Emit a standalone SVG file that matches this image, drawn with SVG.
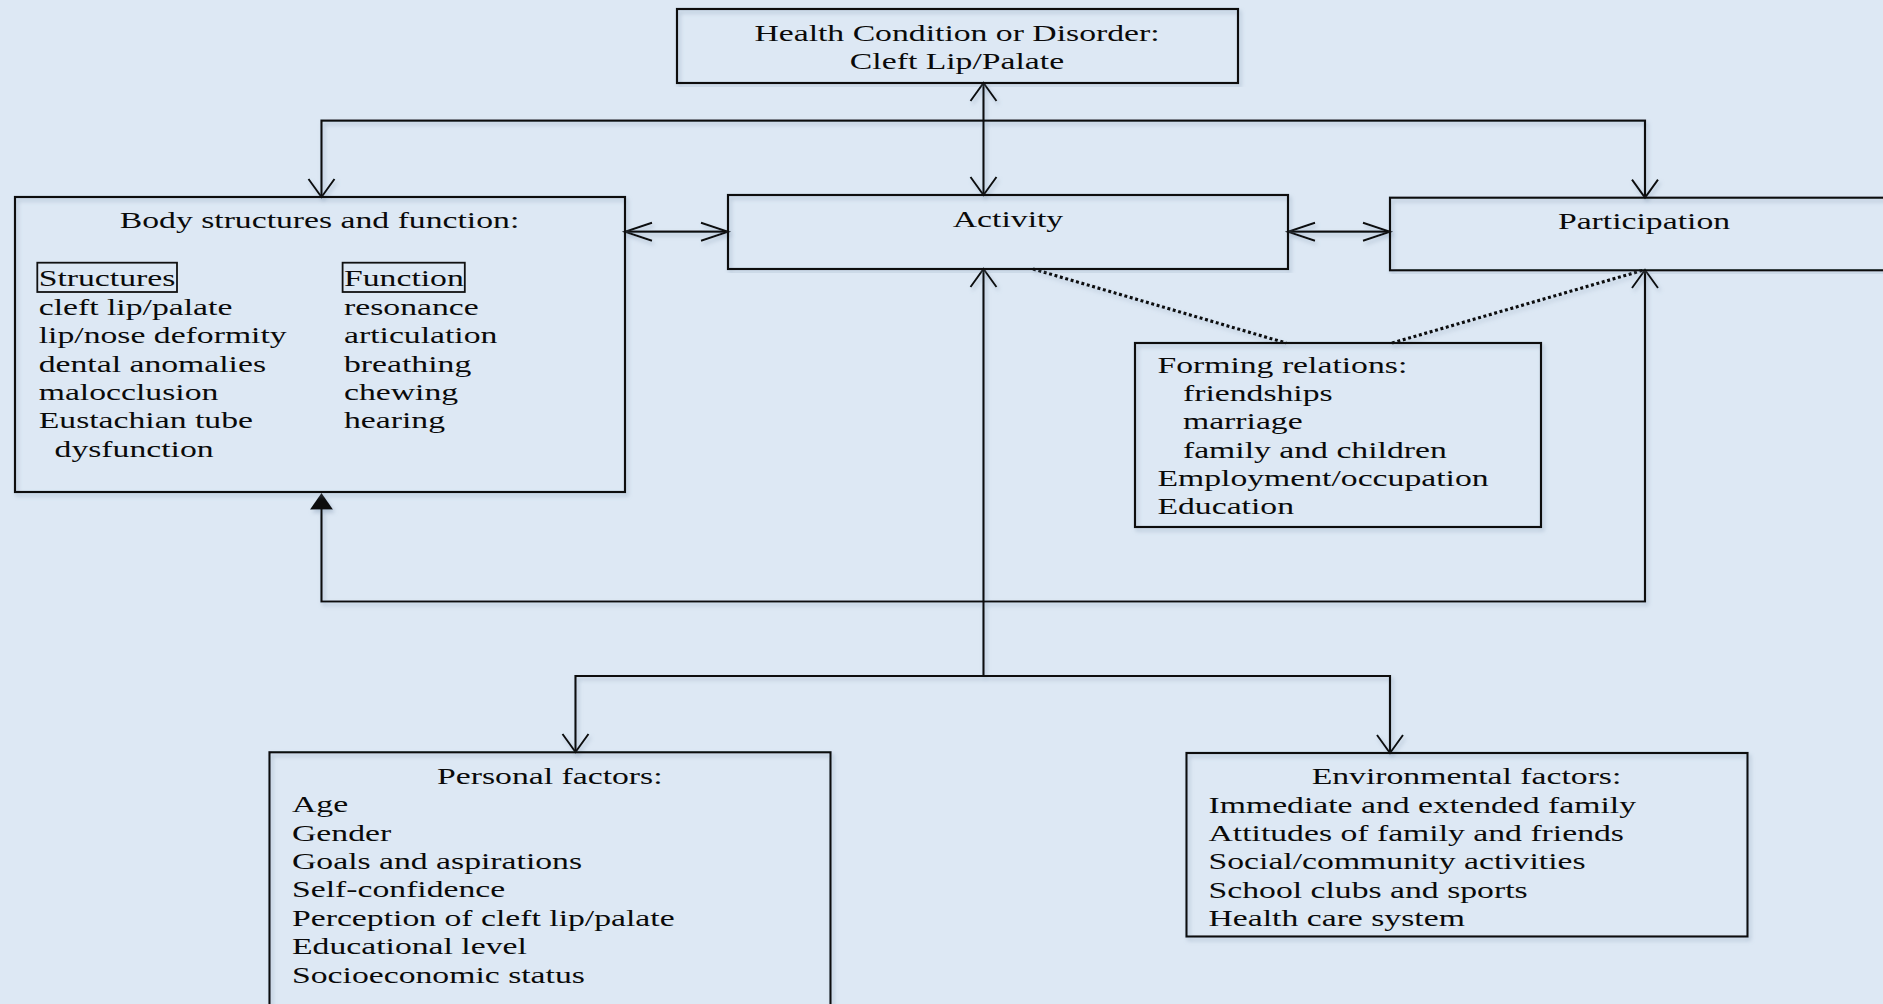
<svg xmlns="http://www.w3.org/2000/svg" width="1883" height="1004" viewBox="0 0 1883 1004">
<style>
.bg{fill:#dde8f4}
.box{fill:none;stroke:#111;stroke-width:2.2}
.sub{fill:none;stroke:#111;stroke-width:1.8}
.ln{fill:none;stroke:#111;stroke-width:2.2}
.dot{fill:none;stroke:#111;stroke-width:3.2;stroke-dasharray:3 2.6}
.ah{fill:none;stroke:#111;stroke-width:2}
.fa{fill:#111;stroke:none}
text{font-family:"Liberation Serif","Times New Roman",serif;font-size:24px;fill:#0a0a0a}
.c{text-anchor:middle}
</style>
<defs>
<filter id="sh" x="-5%" y="-5%" width="110%" height="110%">
<feDropShadow dx="2" dy="3" stdDeviation="2" flood-color="#7d93ab" flood-opacity="0.45"/>
</filter>
</defs>
<rect class="bg" x="0" y="0" width="1883" height="1004"/>

<g id="connectors" filter="url(#sh)">
<!-- health <-> activity -->
<path class="ln" d="M983.5,84 V194"/>
<path class="ah" d="M970.5,101 L983.5,83 L996.5,101"/>
<path class="ah" d="M970.5,177 L983.5,195 L996.5,177"/>
<!-- top distribution line -->
<path class="ln" d="M321.5,196 V120.7 H1645 V197"/>
<path class="ah" d="M308.5,179 L321.5,197 L334.5,179"/>
<path class="ah" d="M1632,179.7 L1645,197.7 L1658,179.7"/>
<!-- body <-> activity -->
<path class="ln" d="M626,231.7 H727"/>
<path class="ah" d="M652,222.7 L625,231.7 L652,240.7"/>
<path class="ah" d="M701,222.7 L728,231.7 L701,240.7"/>
<!-- activity <-> participation -->
<path class="ln" d="M1289,231.7 H1389"/>
<path class="ah" d="M1315,222.7 L1288,231.7 L1315,240.7"/>
<path class="ah" d="M1363,222.7 L1390,231.7 L1363,240.7"/>
<!-- dotted to forming relations -->
<path class="dot" d="M1033,269 L1286,343"/>
<path class="dot" d="M1392,343 L1644,270"/>
<!-- participation feedback loop -->
<path class="ln" d="M1645,271 V601.5 H321.5 V508"/>
<path class="ah" d="M1632,288 L1645,270 L1658,288"/>
<path class="fa" d="M321.5,493 L310,509.5 L333,509.5 Z"/>
<!-- center to factors -->
<path class="ln" d="M983.5,270 V676 M575.5,751 V676 H1390 V752"/>
<path class="ah" d="M970.5,287 L983.5,269 L996.5,287"/>
<path class="ah" d="M562.5,734 L575.5,752 L588.5,734"/>
<path class="ah" d="M1377,735 L1390,753 L1403,735"/>
</g>

<g id="health-condition">
<rect class="box" filter="url(#sh)" x="677" y="9" width="561" height="74"/>
<g transform="translate(957 0) scale(1.404 1)">
<text class="c" x="0" y="40.7">Health Condition or Disorder:</text>
<text class="c" x="0" y="69.3">Cleft Lip/Palate</text>
</g>
</g>

<g id="body-structures">
<rect class="box" filter="url(#sh)" x="15" y="197" width="610" height="295"/>
<g transform="translate(319.5 0) scale(1.404 1)">
<text class="c" x="0" y="228.3">Body structures and function:</text>
</g>
<rect class="sub" x="37.3" y="262.7" width="139.7" height="29.3"/>
<rect class="sub" x="342.6" y="262.7" width="122.2" height="29.3"/>
<g transform="translate(38.7 0) scale(1.404 1)">
<text x="0" y="286.3">Structures</text>
<text x="0" y="315">cleft lip/palate</text>
<text x="0" y="343.3">lip/nose deformity</text>
<text x="0" y="371.7">dental anomalies</text>
<text x="0" y="400">malocclusion</text>
<text x="0" y="428.3">Eustachian tube</text>
<text x="11.3" y="456.7">dysfunction</text>
</g>
<g transform="translate(344 0) scale(1.404 1)">
<text x="0" y="286.3">Function</text>
<text x="0" y="315">resonance</text>
<text x="0" y="343.3">articulation</text>
<text x="0" y="371.7">breathing</text>
<text x="0" y="400">chewing</text>
<text x="0" y="428.3">hearing</text>
</g>
</g>

<g id="activity">
<rect class="box" filter="url(#sh)" x="728" y="195" width="560" height="74"/>
<g transform="translate(1008 0) scale(1.404 1)">
<text class="c" x="0" y="226.7">Activity</text>
</g>
</g>

<g id="participation">
<rect class="box" filter="url(#sh)" x="1390" y="197.7" width="510" height="72.6"/>
<g transform="translate(1644 0) scale(1.404 1)">
<text class="c" x="0" y="229.3">Participation</text>
</g>
</g>

<g id="forming-relations">
<rect class="box" filter="url(#sh)" x="1135" y="343" width="406" height="184"/>
<g transform="translate(1157.4 0) scale(1.404 1)">
<text x="0" y="373.3">Forming relations:</text>
<text x="18.2" y="401">friendships</text>
<text x="18.2" y="429.3">marriage</text>
<text x="18.2" y="457.7">family and children</text>
<text x="0" y="486.5">Employment/occupation</text>
<text x="0" y="514.4">Education</text>
</g>
</g>

<g id="personal-factors">
<rect class="box" filter="url(#sh)" x="269.5" y="752.3" width="561" height="270"/>
<g transform="translate(549.8 0) scale(1.404 1)">
<text class="c" x="0" y="784">Personal factors:</text>
</g>
<g transform="translate(292 0) scale(1.404 1)">
<text x="0" y="812.3">Age</text>
<text x="0" y="840.7">Gender</text>
<text x="0" y="869.1">Goals and aspirations</text>
<text x="0" y="897.5">Self-confidence</text>
<text x="0" y="925.9">Perception of cleft lip/palate</text>
<text x="0" y="954.3">Educational level</text>
<text x="0" y="982.7">Socioeconomic status</text>
</g>
</g>

<g id="environmental-factors">
<rect class="box" filter="url(#sh)" x="1186.5" y="753" width="561" height="183.5"/>
<g transform="translate(1466.5 0) scale(1.404 1)">
<text class="c" x="0" y="784">Environmental factors:</text>
</g>
<g transform="translate(1208.5 0) scale(1.404 1)">
<text x="0" y="812.7">Immediate and extended family</text>
<text x="0" y="841">Attitudes of family and friends</text>
<text x="0" y="869.3">Social/community activities</text>
<text x="0" y="897.6">School clubs and sports</text>
<text x="0" y="925.9">Health care system</text>
</g>
</g>
</svg>
